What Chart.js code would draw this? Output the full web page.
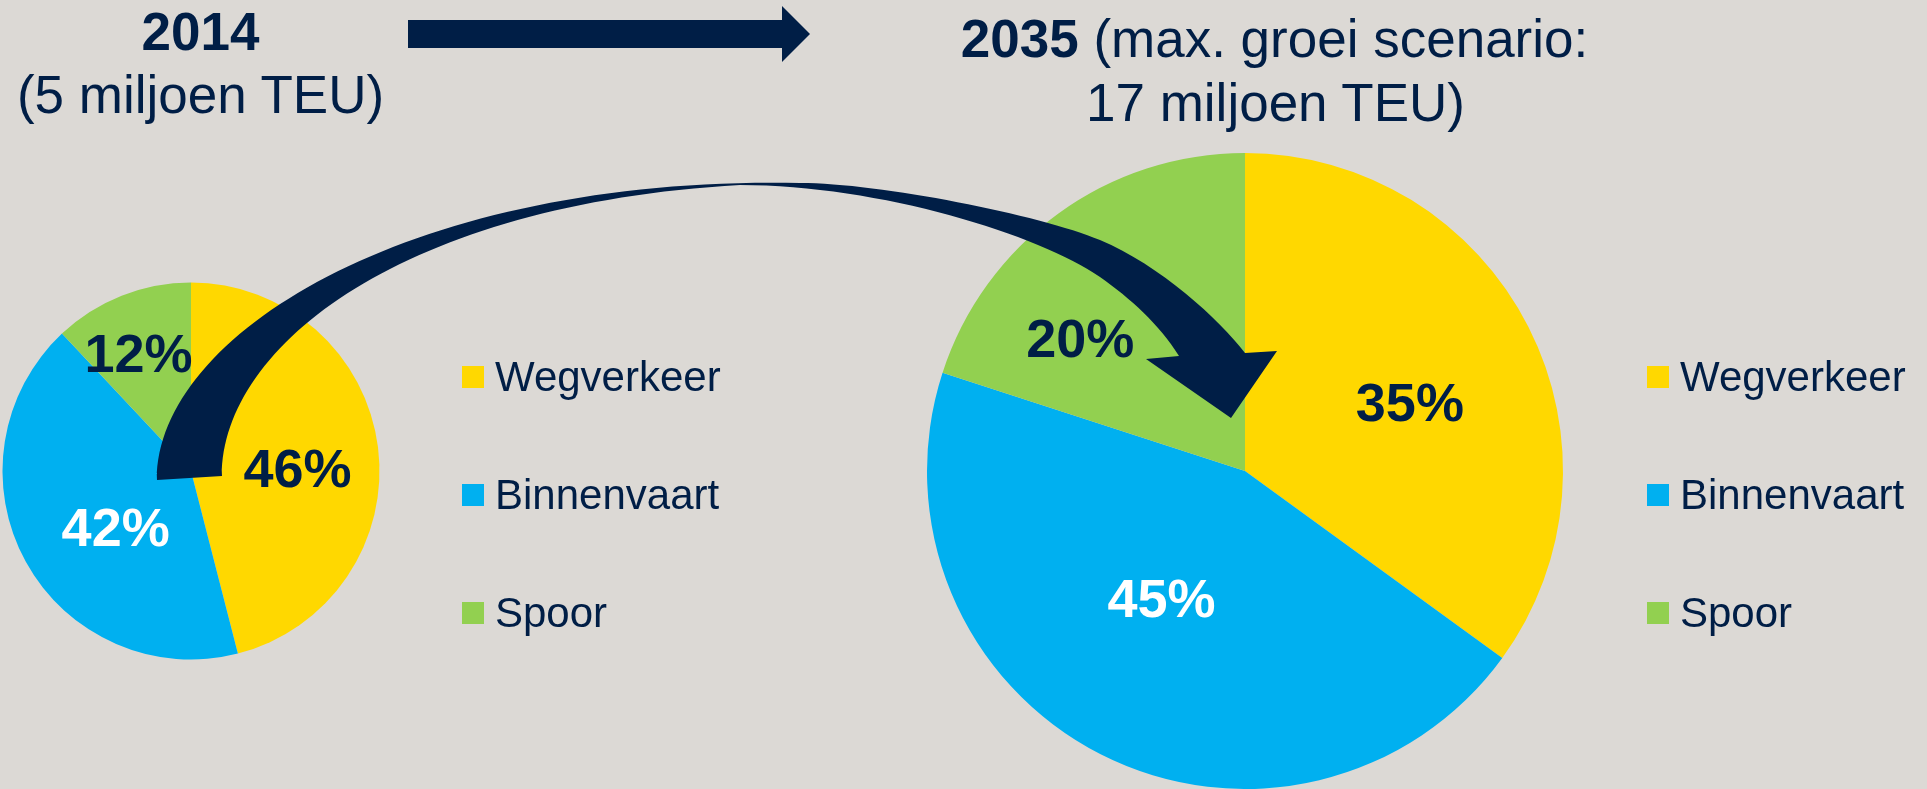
<!DOCTYPE html>
<html>
<head>
<meta charset="utf-8">
<script src="https://cdn.jsdelivr.net/npm/chart.js@4.4.1/dist/chart.umd.min.js"></script>
<style>
  html, body { margin: 0; padding: 0; }
  body { width: 1927px; height: 789px; overflow: hidden; background: #dcd9d5; position: relative;
         font-family: "Liberation Sans", Arial, sans-serif; color: #001e46; }
  canvas { position: absolute; left: 0; top: 0; }
  .t { position: absolute; font-size: 53px; line-height: 52px; white-space: nowrap; transform: translateX(-50%); }
  .t b { font-weight: bold; }
  .legend { position: absolute; }
  .li { position: absolute; height: 48px; display: flex; align-items: center; font-size: 42px; line-height: 48px; white-space: nowrap; }
  .sw { width: 22px; height: 22px; margin-right: 11px; flex: none; }
  #layer { position: absolute; left: 0; top: 0; width: 1927px; height: 789px; z-index: 5; pointer-events: none; }
</style>
</head>
<body>
<canvas id="c2014" width="1927" height="789"></canvas>
<canvas id="c2035" width="1927" height="789"></canvas>
<div id="layer">
  <div class="t" style="left:200.5px; top:6px;"><b>2014</b></div>
  <div class="t" style="left:200.5px; top:69px;">(5 miljoen TEU)</div>
  <div class="t" style="left:1274.5px; top:13px;"><b>2035</b> (max. groei scenario:</div>
  <div class="t" style="left:1275.5px; top:77px;">17 miljoen TEU)</div>
  <div id="leg1" class="legend"></div>
  <div id="leg2" class="legend"></div>
</div>
<script>
// ---- data ----
const categories = ['Wegverkeer', 'Binnenvaart', 'Spoor'];
const share2014 = [46, 42, 12];
const share2035 = [35, 45, 20];
const sliceColors = ['#ffd800', '#00b0f0', '#92d050'];

// ---- style ----
const NAVY = '#001e46';
const labelColors = [NAVY, '#ffffff', NAVY];
const LABEL_FONT_SIZE = 54;

// label placement: angle offset (deg) from slice middle, radius fraction
const place2014 = [{a: 5.6, r: 0.565}, {a: -7.8, r: 0.498}, {a: -2.3, r: 0.688}];
const place2035 = [{a: 4.3, r: 0.562}, {a: 6.3, r: 0.478}, {a: -15.1, r: 0.666}];

const labelPlugin = {
  id: 'pctLabels',
  afterDatasetsDraw(chart, args, opts) {
    const ctx = chart.ctx;
    const meta = chart.getDatasetMeta(0);
    const data = chart.data.datasets[0].data;
    ctx.save();
    ctx.font = 'bold ' + LABEL_FONT_SIZE + 'px "Liberation Sans", Arial, sans-serif';
    ctx.textAlign = 'center';
    ctx.textBaseline = 'alphabetic';
    meta.data.forEach((arc, i) => {
      const p = arc.getProps(['x', 'y', 'startAngle', 'endAngle', 'outerRadius'], true);
      const pl = opts.place[i];
      const ang = (p.startAngle + p.endAngle) / 2 + pl.a * Math.PI / 180;
      const rr = p.outerRadius * pl.r;
      const x = p.x + Math.cos(ang) * rr;
      const y = p.y + Math.sin(ang) * rr;
      ctx.fillStyle = labelColors[i];
      ctx.fillText(data[i] + '%', x, y + LABEL_FONT_SIZE * 0.358);
    });
    ctx.restore();
  }
};

// decorative arrows (not data marks)
const arrowPlugin = {
  id: 'arrows',
  afterDraw(chart) {
    const ctx = chart.ctx;
    ctx.save();
    ctx.fillStyle = NAVY;
    // straight arrow at the top
    ctx.beginPath();
    ctx.moveTo(408, 20); ctx.lineTo(782, 20); ctx.lineTo(782, 6); ctx.lineTo(810, 34);
    ctx.lineTo(782, 62); ctx.lineTo(782, 48); ctx.lineTo(408, 48); ctx.closePath();
    ctx.fill();
    // curved arrow from small pie to big pie
    ctx.beginPath();
    ctx.moveTo(157, 480);
    // upper edge
    ctx.bezierCurveTo(157, 330, 420, 175, 800, 183);
    ctx.bezierCurveTo(880, 183, 1040, 215, 1100, 240);
    ctx.bezierCurveTo(1160, 265, 1220, 320, 1245, 353);
    // arrow head
    ctx.lineTo(1277, 351);
    ctx.lineTo(1231, 418);
    ctx.lineTo(1146, 359);
    ctx.lineTo(1179, 356);
    // lower edge, back to start
    ctx.bezierCurveTo(1160, 325, 1130, 298, 1100, 277);
    ctx.bezierCurveTo(1040, 235, 880, 185, 740, 185);
    ctx.bezierCurveTo(405, 204, 222, 345, 222, 476);
    ctx.closePath();
    ctx.fill();
    ctx.restore();
  }
};

function makePie(id, values, padding, place, extra) {
  return new Chart(document.getElementById(id), {
    type: 'pie',
    data: {
      labels: categories,
      datasets: [{ data: values, backgroundColor: sliceColors, borderWidth: 0 }]
    },
    options: {
      responsive: false,
      devicePixelRatio: 1,
      animation: false,
      events: [],
      layout: { padding: padding },
      plugins: {
        legend: { display: false },
        tooltip: { enabled: false },
        pctLabels: { place: place }
      }
    },
    plugins: [labelPlugin].concat(extra || [])
  });
}

makePie('c2014', share2014, { left: 2.5, right: 1547.5, top: 282.5, bottom: 129.5 }, place2014);
makePie('c2035', share2035, { left: 927, right: 364, top: 153, bottom: 0 }, place2035, [arrowPlugin]);

// legends built from the category list
function buildLegend(elId, x, yCenters) {
  const el = document.getElementById(elId);
  categories.forEach((c, i) => {
    const row = document.createElement('div');
    row.className = 'li';
    row.style.left = x + 'px';
    row.style.top = (yCenters[i] - 24) + 'px';
    const sw = document.createElement('span');
    sw.className = 'sw';
    sw.style.background = sliceColors[i];
    const tx = document.createElement('span');
    tx.textContent = c;
    row.appendChild(sw); row.appendChild(tx);
    el.appendChild(row);
  });
}
buildLegend('leg1', 462, [377, 495, 613]);
buildLegend('leg2', 1647, [377, 495, 613]);
</script>
</body>
</html>
